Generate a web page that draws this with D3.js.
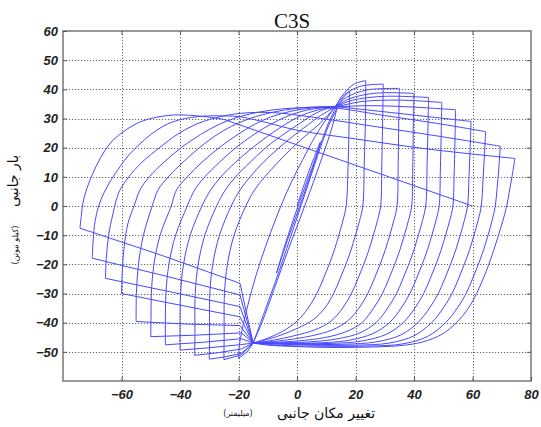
<!DOCTYPE html>
<html><head><meta charset="utf-8">
<script src="https://cdn.jsdelivr.net/npm/d3@7"></script>
<style>body{margin:0;background:#fff}</style>
</head><body>
<svg id="c" width="541" height="427"></svg>
<script>
// ---- data (displacement mm, lateral load kN) ----
const title = "C3S";
const xTickValues = [-60, -40, -20, 0, 20, 40, 60, 80];
const yTickValues = [-50, -40, -30, -20, -10, 0, 10, 20, 30, 40, 50, 60];
const xGrid = [-60, -40, -20, 0, 20, 40, 60];
const yGrid = [-50, -40, -30, -20, -10, 0, 10, 20, 30, 40, 50];

// initial small elastic cycles
const initialCycles = [
  [[0,0],[3,9],[6,17],[8,22]],
  [[8,22],[6,15],[2,3],[-3,-11],[-7,-23]],
  [[-7,-23],[-4,-13],[0,-1],[4,10],[8,21],[11,29],[14,35]],
  [[14,35],[12,27],[8,15],[3,1],[-3,-15],[-8,-29],[-12,-40],[-15,-47]],
  [[-15,-47],[-11,-36],[-6,-22],[-1,-7],[4,8],[8,20],[11,28],[14,34],[16,37.3],[18,39.5]]
];
// each cycle: [unloading from +peak, bottom branch, reloading to next +peak]
const cycle1 = [
  [[18,39.5],[17.8,28],[17.5,15],[16.8,0],[15.7,-5],[14.3,-10],[12.8,-15],[11,-20],[9,-25],[6.8,-30],[3.8,-35],[0,-39.5],[-5,-43],[-10,-45.3],[-15,-47]],
  [[-15,-47],[-17,-50],[-20,-52.2]],
  [[-20,-52.2],[-19.6,-47],[-18,-39],[-15.5,-29],[-12.5,-19],[-9,-9],[-5.5,0],[-2,8],[2,16],[6,23.5],[9.5,29],[13,34],[16,38.5],[19.5,41.8],[23.5,43]]
];
const cycle2 = [
  [[23.5,43],[23.4,30],[23,15],[22.5,0],[21.4,-5],[20,-10],[18.5,-15],[16.7,-20],[14.7,-25],[12.5,-30],[9.5,-35],[5.5,-39],[0,-42],[-7,-44.8],[-15,-47]],
  [[-15,-47],[-19,-51],[-25,-52.7]],
  [[-25,-52.7],[-24.9,-45],[-24.8,-30],[-23.8,-20],[-21.5,-10],[-17.5,0],[-14.5,5.5],[-11,10],[-6.5,15],[-1.6,20],[4,25],[7.5,28],[10.5,31],[13,34],[16.5,38.3],[21.5,41],[29.5,41.8]]
];
const cycle3 = [
  [[29.5,41.8],[29.3,30],[29,15],[28.6,0],[27.5,-5],[26.1,-10],[24.6,-15],[22.8,-20],[20.8,-25],[18.6,-30],[15.6,-35],[11.6,-39.5],[6,-42.5],[-1,-44.5],[-8,-46],[-15,-47]],
  [[-15,-47],[-19,-50.5],[-25,-51.8],[-30,-52.5]],
  [[-30,-52.5],[-29.9,-45],[-29.8,-30],[-28.8,-20],[-26.5,-10],[-22.5,0],[-19.5,5.5],[-16,10],[-11.5,15],[-6.1,20],[0,25],[4,28],[8,31],[13,34],[17,37.3],[24,39.8],[35,40.3]]
];
const cycle4 = [
  [[35,40.3],[34.8,30],[34.6,15],[34.2,0],[33.1,-5],[31.7,-10],[30.2,-15],[28.4,-20],[26.4,-25],[24.2,-30],[21.2,-35],[17.2,-39.5],[12,-42.5],[5,-44.5],[-4,-46],[-15,-47]],
  [[-15,-47],[-19,-49],[-27,-50.3],[-35,-51.2]],
  [[-35,-51.2],[-34.9,-45],[-34.8,-30],[-33.8,-20],[-31.5,-10],[-27.5,0],[-24.5,5.5],[-21,10],[-16,15],[-10.7,20],[-4,25],[0.5,28],[5,31],[9.5,33.2],[13,34],[18,36.8],[27,38.7],[40,38.6]]
];
const cycle5 = [
  [[40,38.6],[39.8,30],[39.6,15],[39.2,0],[38.1,-5],[36.7,-10],[35.2,-15],[33.4,-20],[31.4,-25],[29.2,-30],[26.2,-35],[22.2,-40],[17,-43],[10,-45],[0,-46.3],[-15,-47]],
  [[-15,-47],[-19,-47.5],[-30,-48.6],[-40,-49.4]],
  [[-40,-49.4],[-40,-42],[-39.8,-30],[-38.8,-20],[-36.5,-10],[-32.5,0],[-29.5,5.5],[-26,10],[-21,15],[-15.2,20],[-8.5,25],[-4,28],[1,30.8],[7,32.9],[13,34],[19,36.3],[30,37.6],[45,37.2]]
];
const cycle6 = [
  [[45,37.2],[44.8,28],[44.5,15],[44,0],[42.9,-5],[41.5,-10],[40,-15],[38.2,-20],[36.2,-25],[34,-30],[31,-35],[27,-40],[21.5,-43.5],[14,-45.5],[4,-46.6],[-15,-47]],
  [[-15,-47],[-19,-45.5],[-32,-46.7],[-45,-47.6]],
  [[-45,-47.6],[-45,-40],[-44.8,-30],[-43.8,-20],[-41.5,-10],[-37.5,0],[-35,5.5],[-31.5,10],[-26.5,15],[-20.9,20],[-14,25],[-9,28],[-3.5,30.7],[3,32.8],[8,33.6],[13,34],[22,35.8],[35,36.3],[49.5,35.5]]
];
const cycle7 = [
  [[49.5,35.5],[49.3,25],[49,12],[48.6,0],[47.5,-5],[46.1,-10],[44.6,-15],[42.8,-20],[40.8,-25],[38.6,-30],[35.6,-35],[31.6,-40],[26,-43.7],[18,-46],[8,-46.9],[-15,-47]],
  [[-15,-47],[-19,-43.5],[-35,-44.3],[-50,-44.8]],
  [[-50,-44.8],[-49.9,-38],[-49.8,-30],[-48.9,-20],[-46.8,-10],[-43,0],[-41.2,5.5],[-37.5,10],[-32.5,15],[-26.6,20],[-19.5,25],[-14.5,28],[-9,30.5],[-2,32.5],[5,33.6],[13,34],[25,34.4],[40,33.9],[54.2,33]]
];
const cycle8 = [
  [[54.2,33],[54,22],[53.7,10],[53.3,0],[52.2,-5],[50.8,-10],[49.3,-15],[47.5,-20],[45.5,-25],[43.3,-30],[40.3,-35],[36.3,-40],[30.5,-44],[22,-46.3],[12,-47.1],[-15,-47]],
  [[-15,-47],[-19.5,-41],[-37,-40.5],[-55,-39.6]],
  [[-55,-39.6],[-54.9,-30],[-54.2,-20],[-52.5,-10],[-49.5,0],[-47.5,5.5],[-44,10],[-39,15],[-33.4,20],[-26.5,25],[-21,28],[-15.5,30.2],[-8,32.2],[0,33.5],[7,34],[13,34],[28,32.5],[45,30.6],[59.5,29]]
];
const cycle9 = [
  [[59.5,29],[59.2,20],[58.8,10],[58.3,0],[57.2,-5],[55.8,-10],[54.3,-15],[52.5,-20],[50.5,-25],[48.3,-30],[45.3,-35],[41.3,-40],[35.5,-44.2],[27,-46.6],[16,-47.4],[0,-47.4],[-15,-47]],
  [[-15,-47],[-19.5,-38],[-40,-34],[-60,-30]],
  [[-60,-30],[-59.8,-24],[-59.2,-15],[-57.8,-6],[-55.7,0],[-53.7,5.5],[-50.5,10],[-45.5,15],[-39.6,20],[-33,24.5],[-27,27.8],[-21,30.2],[-13,32.2],[-4,33.4],[5,33.8],[13,33.6],[30,31],[48,28.3],[64.5,25.5]]
];
const cycle10 = [
  [[64.5,25.5],[64.1,18],[63.6,9],[63,0],[61.9,-5],[60.5,-10],[59,-15],[57.2,-20],[55.2,-25],[53,-30],[50,-35],[46,-40],[40,-44.5],[31.5,-47],[20,-47.7],[5,-47.7],[-15,-47]],
  [[-15,-47],[-19.5,-34.5],[-42,-29.7],[-65.5,-24.8]],
  [[-65.5,-24.8],[-65.2,-18],[-64.4,-10],[-63,-3],[-61.8,2],[-60.5,5.5],[-57.5,10],[-53,15],[-47,20],[-41,24.5],[-35,27.8],[-28,30.2],[-19,31.8],[-8,32],[5,30.5],[25,27.5],[48,24],[69.5,20.5]]
];
const cycle11 = [
  [[69.5,20.5],[69,13],[68.4,6],[67.8,0],[66.7,-5],[65.3,-10],[63.8,-15],[62,-20],[60,-25],[57.8,-30],[54.8,-35],[50.8,-40],[44.5,-44.8],[36,-47.3],[25,-48],[10,-48.1],[-5,-47.8],[-15,-47]],
  [[-15,-47],[-19.5,-30.5],[-45,-24],[-70,-17.9]],
  [[-70,-17.9],[-69.7,-12],[-69,-5],[-67.8,0],[-66,4.5],[-63.5,9],[-60.5,13.5],[-57.5,17.5],[-54,21],[-50,24.5],[-45.5,27.5],[-40,29.6],[-32,30.8],[-25,30.9],[-19,30.5],[-10,28.5],[0,26],[20,23],[45,19.5],[74.5,16.3]]
];
const cycle12 = [
  [[74.5,16.3],[73.5,10],[72.5,4.5],[71.7,0],[70.4,-5],[68.9,-10],[67.3,-15],[65.6,-20],[63.6,-25],[61.4,-30],[58.6,-35],[54.5,-40],[49.5,-44],[43,-46.6],[36,-47.8],[27,-48.3],[12,-48.5],[0,-48.2],[-10,-47.7],[-15,-47]],
  [[-15,-47],[-19.5,-26.5],[-46,-17],[-74.2,-7.6]],
  [[-74.2,-7.6],[-73.7,-3],[-73.2,1],[-72,5.5],[-70.5,9.5],[-68.5,14],[-66,18.5],[-63,22.5],[-59,25.7],[-55,28.2],[-50,30],[-42,31.2],[-33,30.8],[-25,29.7]]
];
const finalBranch = [[-25,29.7],[60,0]];

const cycles = [cycle1,cycle2,cycle3,cycle4,cycle5,cycle6,cycle7,cycle8,cycle9,cycle10,cycle11,cycle12];

// ---- layout ----
const W = 541, H = 427;
const L = 63, R = 531, T = 31, B = 381;
const svg = d3.select("#c");
svg.append("rect").attr("width", W).attr("height", H).attr("fill", "#fff");

const x = d3.scaleLinear().domain([-80, 80]).range([L, R]);
const y = d3.scaleLinear().domain([-60, 60]).range([B, T]);

// grid
const grid = svg.append("g").attr("stroke", "#555").attr("stroke-width", 1)
  .attr("stroke-dasharray", "1.2,1.8").attr("opacity", 0.9);
grid.selectAll("line.vx").data(xGrid).enter().append("line")
  .attr("x1", d => Math.round(x(d)) + 0.5).attr("x2", d => Math.round(x(d)) + 0.5)
  .attr("y1", T).attr("y2", B);
grid.selectAll("line.hy").data(yGrid).enter().append("line")
  .attr("y1", d => Math.round(y(d)) + 0.5).attr("y2", d => Math.round(y(d)) + 0.5)
  .attr("x1", L).attr("x2", R);

// curves
const smooth = d3.line().x(d => x(d[0])).y(d => y(d[1])).curve(d3.curveCatmullRom.alpha(0.5));
const straight = d3.line().x(d => x(d[0])).y(d => y(d[1]));
const plot = svg.append("g").attr("fill", "none").attr("stroke", "#4848ff")
  .attr("stroke-width", 1).attr("stroke-linejoin", "round");
initialCycles.forEach(seg => plot.append("path").attr("d", smooth(seg)));
cycles.forEach(c => {
  plot.append("path").attr("d", smooth(c[0]));
  plot.append("path").attr("d", straight(c[1]));
  plot.append("path").attr("d", smooth(c[2]));
});
plot.append("path").attr("d", straight(finalBranch));

// frame
svg.append("rect").attr("x", L).attr("y", T).attr("width", R - L).attr("height", B - T)
  .attr("fill", "none").attr("stroke", "#777").attr("stroke-width", 1.5);

// axes
const tickFont = "Liberation Sans, Arial, sans-serif";
const ax = svg.append("g").attr("transform", `translate(0,${B})`)
  .call(d3.axisBottom(x).tickValues(xTickValues).tickSizeInner(-4).tickSizeOuter(0).tickPadding(9).tickFormat(d3.format("d")));
const ay = svg.append("g").attr("transform", `translate(${L},0)`)
  .call(d3.axisLeft(y).tickValues(yTickValues).tickSizeInner(-4).tickSizeOuter(0).tickPadding(5).tickFormat(d3.format("d")));
const axT = svg.append("g").attr("transform", `translate(0,${T})`)
  .call(d3.axisTop(x).tickValues(xGrid).tickSizeInner(-4).tickSizeOuter(0).tickFormat(""));
const ayR = svg.append("g").attr("transform", `translate(${R},0)`)
  .call(d3.axisRight(y).tickValues(yGrid).tickSizeInner(-4).tickSizeOuter(0).tickFormat(""));
[ax, ay, axT, ayR].forEach(g => {
  g.select(".domain").remove();
  g.selectAll(".tick line").attr("stroke", "#555");
  g.selectAll("text").attr("font-family", tickFont).attr("font-size", 13)
    .attr("font-style", "italic").attr("font-weight", "bold").attr("fill", "#222");
});
ax.selectAll(".tick text").attr("dy", "0.71em");

// title
svg.append("text").attr("x", 292).attr("y", 28).attr("text-anchor", "middle")
  .attr("font-family", "Liberation Serif, Times New Roman, serif").attr("font-size", 21)
  .attr("fill", "#111").text(title);

// axis titles (Persian)
const fa = "DejaVu Sans, Noto Sans, sans-serif";
svg.append("text").attr("transform", "translate(326,418)").attr("text-anchor", "middle")
  .attr("direction", "rtl").attr("font-family", fa).attr("font-size", 14).attr("fill", "#111")
  .text("تغییر مکان جانبی");
svg.append("text").attr("transform", "translate(238,416)").attr("text-anchor", "middle")
  .attr("direction", "rtl").attr("font-family", fa).attr("font-size", 8).attr("fill", "#111")
  .text("(میلیمتر)");
svg.append("text").attr("transform", "translate(18,181) rotate(-90)").attr("text-anchor", "middle")
  .attr("direction", "rtl").attr("font-family", fa).attr("font-size", 14).attr("fill", "#111")
  .text("بار جانبی");
svg.append("text").attr("transform", "translate(18,245) rotate(-90)").attr("text-anchor", "middle")
  .attr("direction", "rtl").attr("font-family", fa).attr("font-size", 8).attr("fill", "#111")
  .text("(کیلو نیوتن)");
</script>
</body></html>
